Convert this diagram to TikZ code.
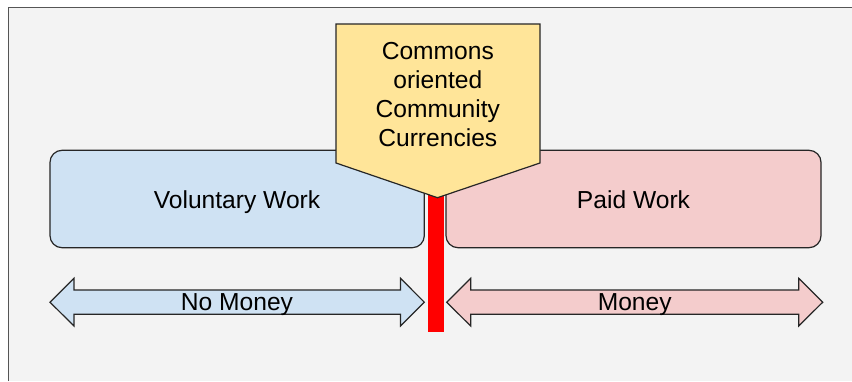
\documentclass[tikz,border=0pt]{standalone}
\usepackage{fontspec}
\setmainfont{Liberation Sans}
\definecolor{bgray}{HTML}{F3F3F3}
\definecolor{framegray}{HTML}{555555}
\definecolor{lblue}{HTML}{CFE2F3}
\definecolor{lred}{HTML}{F4CCCC}
\definecolor{lyellow}{HTML}{FFE599}
\definecolor{outl}{HTML}{262626}
\tikzset{
  lbl/.style={font=\fontsize{24.6}{29.3}\selectfont, inner sep=0pt, text=black},
  workbox/.style={draw=outl, line width=1.2pt, rounded corners=12pt},
  bigarrow/.style={draw=outl, line width=1.2pt},
}
\begin{document}
\begin{tikzpicture}[x=1pt,y=-1pt]
\useasboundingbox (0,0) rectangle (852,381);
\fill[white] (0,0) rectangle (852,381);
\fill[bgray] (8.5,7.5) rectangle (852,381);
\draw[framegray, line width=1.6pt] (8.5,381) -- (8.5,7.5) -- (852,7.5);
% work boxes
\draw[workbox, fill=lblue] (50,150.3) rectangle (424.3,247.7);
\node[lbl, anchor=base] (vol) at (237,208.3) {Voluntary Work};
\draw[workbox, fill=lred] (446,150.3) rectangle (821,247.7);
\node[lbl, anchor=base] (paid) at (633.5,208.3) {Paid Work};
% red divider
\fill[red] (428,180) rectangle (444,331.7);
% arrows
\draw[bigarrow, fill=lblue] (50,302.2) -- (74,278.3) -- (74,290) -- (400.5,290) -- (400.5,278.3) -- (424.3,302.2) -- (400.5,326) -- (400.5,314.3) -- (74,314.3) -- (74,326) -- cycle;
\node[lbl, anchor=base] (nomoney) at (237,310.7) {No Money};
\draw[bigarrow, fill=lred] (446.7,302.2) -- (470.7,278.3) -- (470.7,290) -- (798.7,290) -- (798.7,278.3) -- (822.7,302.2) -- (798.7,326) -- (798.7,314.3) -- (470.7,314.3) -- (470.7,326) -- cycle;
\node[lbl, anchor=base] (money) at (634.7,310.7) {Money};
% callout
\draw[bigarrow, fill=lyellow] (336,24) -- (540,24) -- (540,163) -- (437.5,197.7) -- (336,163) -- cycle;
\node[lbl, align=center, anchor=base] (commons) at (437.8,59) {Commons};
\node[lbl, anchor=base] (oriented) at (437.8,88.3) {oriented};
\node[lbl, anchor=base] (community) at (437.8,117.5) {Community};
\node[lbl, anchor=base] (currencies) at (437.8,146.7) {Currencies};
\end{tikzpicture}
\end{document}
